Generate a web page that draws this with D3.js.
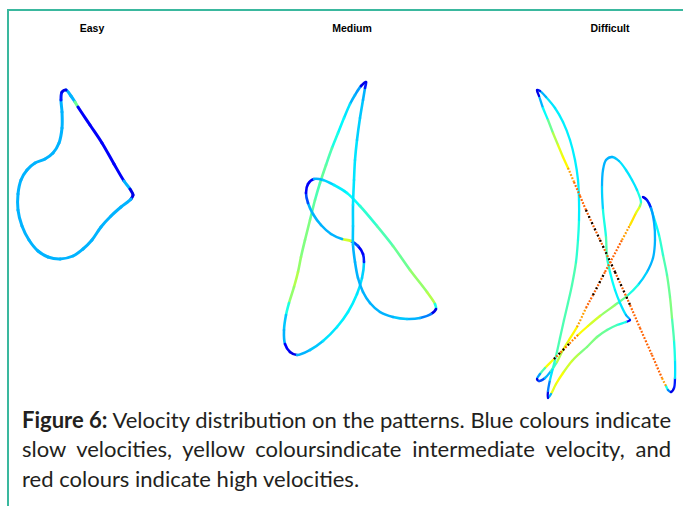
<!DOCTYPE html>
<html><head><meta charset="utf-8">
<script src="https://cdn.jsdelivr.net/npm/d3@7"></script>
<style>html,body{margin:0;padding:0;background:#fff}svg{display:block}</style>
</head><body><svg id="c" width="683" height="506"></svg>
<script>
// ---- data (pattern coordinates, x right / y up, and normalised velocity 0..1) ----
const panelNames = ["Easy", "Medium", "Difficult"];

const easyX = [6.2,6.6,7.1,7.5,7.8,9.0,10.2,11.4,12.4,13.0,13.3,13.1,12.1,11.1,10.1,9.2,8.3,7.3,6.0,4.8,3.8,2.9,2.2,1.8,1.8,2.1,2.7,3.5,4.5,5.3,5.9,6.2,6.2,6.1];
const easyY = [30.8,31.0,30.4,29.8,29.3,27.5,25.7,23.6,21.9,21.1,20.5,20.1,19.3,18.4,17.3,16.0,15.1,14.4,14.1,14.3,14.9,16.0,17.4,19.0,20.6,22.0,23.0,23.7,24.1,24.7,25.7,27.2,28.8,30.0];
const easyV = [0.10,0.30,0.30,0.48,0.12,0.12,0.12,0.12,0.30,0.10,0.10,0.30,0.30,0.30,0.30,0.30,0.30,0.30,0.30,0.30,0.30,0.30,0.30,0.30,0.30,0.30,0.30,0.30,0.30,0.30,0.30,0.30,0.30,0.15];

const mediumX = [10.6,10.1,9.5,9.0,8.4,7.8,7.2,6.6,6.0,5.5,5.0,4.5,4.1,3.8,3.4,2.9,2.6,2.4,2.5,3.0,3.7,5.0,6.3,7.7,8.8,9.7,10.2,10.4,10.3,9.8,9.1,8.2,7.1,6.1,5.3,4.8,4.6,4.8,5.4,6.3,7.4,8.7,10.0,11.7,13.3,15.0,16.7,17.5,17.6,17.1,16.0,14.7,13.3,12.0,11.0,10.3,9.8,9.5,9.3,9.3,9.3,9.4,9.5,9.7,10.0,10.3,10.5];
const mediumY = [31.8,31.4,30.5,29.6,28.2,26.7,25.2,23.5,21.7,20.0,18.0,16.0,14.3,12.8,11.3,9.7,8.5,7.0,5.6,4.8,4.5,5.0,5.9,7.3,8.8,10.6,12.2,13.8,14.6,15.4,15.9,16.1,16.6,17.5,18.6,19.7,20.7,21.6,22.1,22.0,21.5,20.7,19.4,17.4,15.4,13.0,10.8,9.6,9.1,8.6,8.2,8.1,8.3,8.8,9.7,10.8,12.2,13.8,15.5,17.4,19.5,22.0,24.0,26.0,28.2,30.0,31.2];
const mediumV = [0.10,0.28,0.30,0.35,0.37,0.40,0.45,0.47,0.45,0.47,0.50,0.50,0.52,0.55,0.52,0.40,0.32,0.30,0.12,0.10,0.30,0.32,0.35,0.36,0.36,0.35,0.33,0.15,0.12,0.20,0.58,0.30,0.30,0.30,0.30,0.20,0.12,0.12,0.30,0.33,0.36,0.38,0.42,0.45,0.48,0.52,0.55,0.40,0.10,0.25,0.30,0.32,0.30,0.30,0.30,0.30,0.30,0.30,0.32,0.33,0.35,0.35,0.35,0.33,0.32,0.30,0.15];

const difficultX = [3.7,3.9,4.3,4.8,5.3,5.8,6.3,6.8,7.4,8.0,8.6,10.0,11.5,13.0,14.0,15.2,16.2,16.6,16.8,17.1,17.4,17.5,17.5,17.4,17.2,17.0,16.7,16.3,15.9,15.4,15.0,14.6,14.3,14.7,15.1,15.4,15.5,15.3,14.7,13.8,12.7,11.5,10.0,8.8,7.8,6.9,6.0,5.3,4.5,4.0,3.7,3.9,4.5,5.1,5.7,6.3,6.9,7.7,8.6,9.3,10.5,11.3,12.2,13.0,13.6,14.0,14.1,13.7,13.2,12.6,11.9,11.2,10.6,10.3,10.2,10.3,10.6,10.7,11.0,11.5,12.0,12.6,13.0,12.6,11.7,10.7,9.7,8.7,7.9,7.2,6.3,5.6,5.1,4.8,4.8,5.0,5.3,5.6,6.0,6.4,6.8,7.2,7.6,7.8,7.9,7.9,7.8,7.5,7.0,6.3,5.5,4.6,4.0];
const difficultY = [31.0,30.4,29.2,28.0,26.7,25.5,24.3,23.2,21.8,20.4,19.0,16.0,12.8,9.5,7.2,4.5,2.2,1.4,1.0,0.8,1.2,2.2,4.0,6.0,8.2,10.3,12.5,14.5,16.5,18.2,19.4,20.1,20.3,20.0,19.2,17.8,16.0,14.2,12.8,11.5,10.4,9.5,8.4,7.4,6.5,5.6,4.7,4.0,3.2,2.6,2.1,1.9,2.2,2.9,3.8,5.0,6.0,7.3,9.2,10.5,12.8,14.3,16.0,17.5,18.7,19.4,19.8,21.0,22.0,23.0,23.9,24.3,24.0,23.0,21.3,19.0,16.3,14.3,12.8,11.0,9.7,8.5,8.0,7.8,7.5,7.0,6.3,5.3,4.6,3.9,2.7,1.6,0.6,0.2,0.9,2.0,3.2,4.4,6.2,8.0,9.7,11.5,13.8,16.0,18.0,20.0,22.0,24.0,26.0,27.8,29.2,30.3,30.9];
const difficultV = [0.10,0.30,0.38,0.48,0.55,0.60,0.63,0.72,0.78,0.78,1,1,1,0.78,0.78,0.78,0.72,0.40,0.25,0.10,0.15,0.35,0.40,0.45,0.50,0.48,0.45,0.42,0.38,0.36,0.30,0.12,0.10,0.15,0.28,0.30,0.30,0.30,0.33,0.40,0.48,0.52,0.58,0.62,0.75,1,1,0.62,0.45,0.28,0.10,0.20,0.30,0.45,0.55,0.60,0.63,0.72,0.78,1,0.78,0.78,0.72,0.65,0.60,0.50,0.40,0.35,0.35,0.35,0.32,0.30,0.30,0.30,0.33,0.40,0.45,0.42,0.38,0.36,0.35,0.30,0.12,0.40,0.45,0.48,0.50,0.50,0.55,0.58,0.62,0.60,0.30,0.10,0.25,0.35,0.42,0.45,0.45,0.45,0.45,0.45,0.42,0.40,0.36,0.36,0.36,0.36,0.36,0.36,0.35,0.30,0.15];

const captionLines = [
  ["Figure 6:", " Velocity distribution on the patterns. Blue colours indicate"],
  ["", "slow velocities, yellow coloursindicate intermediate velocity, and"],
  ["", "red colours indicate high velocities."]
];

// ---- drawing ----
const svg = d3.select("#c");
svg.append("rect").attr("width", 683).attr("height", 506).attr("fill", "#fff");
svg.append("rect").attr("x", 8).attr("y", 10).attr("width", 720).attr("height", 540)
  .attr("fill", "none").attr("stroke", "#3ab89e").attr("stroke-width", 2);

const jet = d3.scaleLinear()
  .domain([0, 0.125, 0.375, 0.625, 0.875])
  .range(["#000080", "#0000ff", "#00ffff", "#ffff00", "#ff0000"])
  .clamp(true);

const panels = [
  {xs: easyX, ys: easyY, vs: easyV, left: 0, titleX: 92, sw: 3},
  {xs: mediumX, ys: mediumY, vs: mediumV, left: 260, titleX: 352, sw: 2.6},
  {xs: difficultX, ys: difficultY, vs: difficultV, left: 500, titleX: 610, sw: 2.3}
];

function bezierSegments(pts) {
  const segs = []; let cur = null;
  const ctx = {
    moveTo(x, y) { cur = [x, y]; },
    lineTo(x, y) { segs.push({p0: cur, c1: cur, c2: [x, y], p: [x, y]}); cur = [x, y]; },
    bezierCurveTo(a, b, c, d, x, y) { segs.push({p0: cur, c1: [a, b], c2: [c, d], p: [x, y]}); cur = [x, y]; },
    closePath() {}
  };
  d3.line().curve(d3.curveCatmullRomClosed.alpha(0.5)).context(ctx)(pts);
  return segs;
}

panels.forEach((P, k) => {
  const x = d3.scaleLinear().domain([0, 20]).range([P.left, P.left + 200]);
  const y = d3.scaleLinear().domain([0, 35]).range([400, 50]);
  svg.append("text").attr("x", P.titleX).attr("y", 32).attr("text-anchor", "middle")
    .attr("font-family", "'Liberation Sans', Arial, sans-serif").attr("font-weight", "bold")
    .attr("font-size", 10.5).attr("fill", "#000").text(panelNames[k]);

  const pts = P.xs.map((d, i) => [x(d), y(P.ys[i])]);
  const segs = bezierSegments(pts);
  const g = svg.append("g");
  const solid = [], dotted = [], black = [];
  segs.forEach(s => {
    let idx = pts.findIndex(p => Math.abs(p[0] - s.p0[0]) < 1e-6 && Math.abs(p[1] - s.p0[1]) < 1e-6);
    const v = P.vs[idx];
    const d = `M${s.p0[0]},${s.p0[1]}C${s.c1[0]},${s.c1[1]} ${s.c2[0]},${s.c2[1]} ${s.p[0]},${s.p[1]}`;
    if (v >= 0.95) black.push(d);
    else if (v >= 0.68) dotted.push({d, v});
    else solid.push({d, v});
  });
  g.selectAll("path.s").data(solid).join("path").attr("class", "s")
    .attr("d", d => d.d).attr("fill", "none").attr("stroke", d => jet(d.v))
    .attr("stroke-width", P.sw).attr("stroke-linecap", "round");
  g.selectAll("path.o").data(dotted).join("path").attr("class", "o")
    .attr("d", d => d.d).attr("fill", "none").attr("stroke", d => jet(d.v))
    .attr("stroke-width", 2.2).attr("stroke-dasharray", "1.8,1.6");
  g.selectAll("path.bo").data(black).join("path").attr("class", "bo")
    .attr("d", d => d).attr("fill", "none").attr("stroke", jet(0.78))
    .attr("stroke-width", 2.2).attr("stroke-dasharray", "1.8,1.6");
  g.selectAll("path.bk").data(black).join("path").attr("class", "bk")
    .attr("d", d => d).attr("fill", "none").attr("stroke", "#000")
    .attr("stroke-width", 2.2).attr("stroke-dasharray", "1.8,5.0");
});

// caption
const capLeft = 22, capRight = 671, baseY = 428, lineH = 29.3;
let fs = 19;
const capFont = "Lato, 'Open Sans', sans-serif";
const lines = captionLines.map((L, i) => {
  const t = svg.append("text").attr("x", capLeft).attr("y", baseY + i * lineH)
    .attr("font-family", capFont).attr("font-size", fs).attr("fill", "#231f20");
  if (L[0]) t.append("tspan").attr("font-weight", "bold").text(L[0]);
  t.append("tspan").text(L[1]);
  return t;
});
// scale font so the first line fills the column naturally, then justify lines 1-2
const w0 = lines[0].node().getComputedTextLength();
fs = fs * (capRight - capLeft) / w0;
lines.forEach(t => t.attr("font-size", fs));
[0, 1].forEach(i => {
  const t = lines[i];
  const str = captionLines[i].join("");
  const n = (str.match(/ /g) || []).length;
  const w = t.node().getComputedTextLength();
  const extra = (capRight - capLeft - w) / n;
  if (Math.abs(extra) > 0.01) t.attr("word-spacing", extra);
});
</script>
</body></html>
